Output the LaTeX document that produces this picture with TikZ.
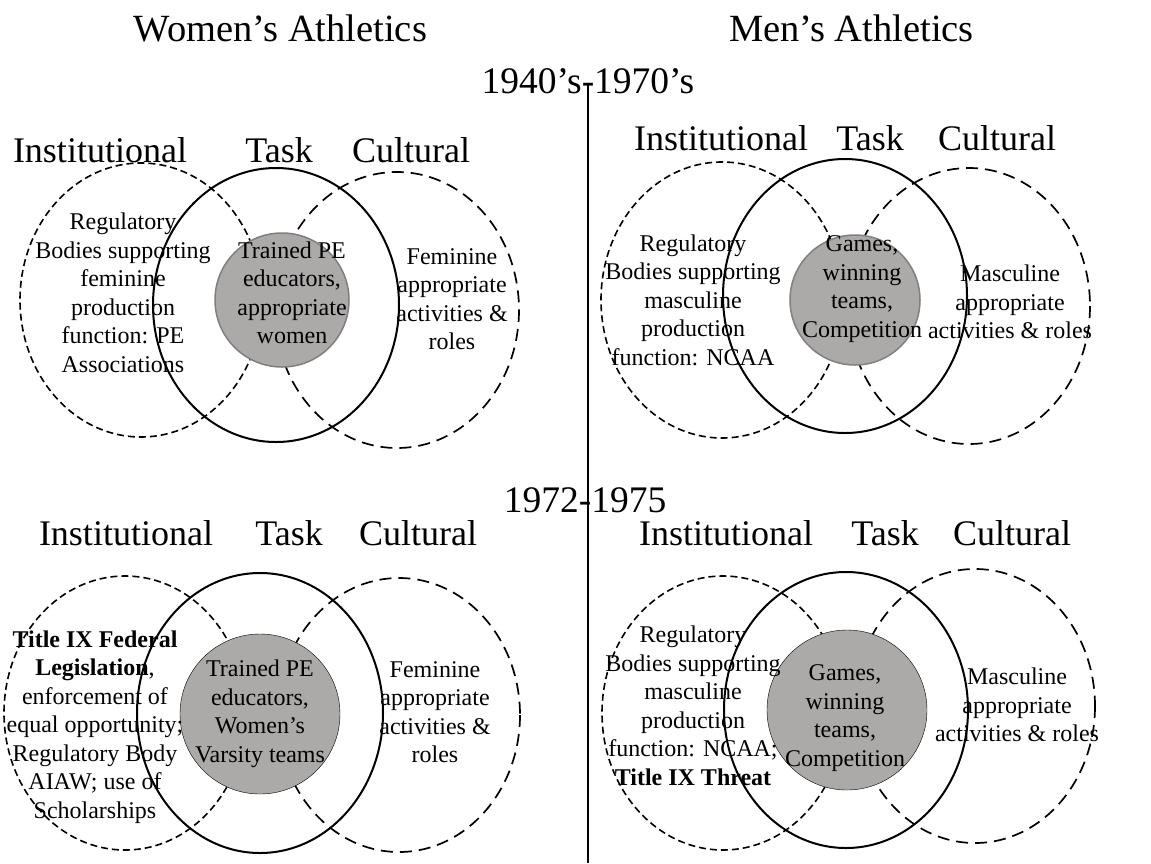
\documentclass[tikz,border=0pt]{standalone}
\usepackage{fontspec}
\setmainfont{Liberation Serif}
\definecolor{coregray}{RGB}{172,169,169}
\definecolor{coreedge}{RGB}{128,126,126}
\begin{document}
\begin{tikzpicture}[x=1pt,y=-1pt,
  inst/.style={draw, dash pattern=on 7pt off 4pt, line width=1.6pt},
  cult/.style={draw, dash pattern=on 12pt off 7pt, line width=1.7pt},
  taskc/.style={draw, line width=2pt},
  coreA/.style={fill=coregray, draw=coreedge, line width=1.5pt},
  coreB/.style={fill=coregray},
  head/.style={font=\fontsize{38.5}{40}\selectfont, inner sep=0pt, anchor=base},
  period/.style={font=\fontsize{37.5}{40}\selectfont, inner sep=0pt, anchor=base},
  dim/.style={font=\fontsize{36}{40}\selectfont, inner sep=0pt, anchor=base},
  body/.style={font=\fontsize{24}{28.5}\selectfont, align=center, inner sep=0pt},
  divider/.style={line width=2pt},
]
\useasboundingbox[fill=white] (0,0) rectangle (1151,863);

% headings
\node[head] (women) at (280.5,41) {Women’s Athletics};
\node[head] (men) at (851.5,41) {Men’s Athletics};

% divider
\coordinate (vt) at (588,83);
\coordinate (vb) at (588,863);
\draw[divider] (vt) -- (vb);

\node[period] (p1) at (588,93) {1940’s-1970’s};
\node[period] (p2) at (585,512) {1972-1975};

% ---------- top-left ----------
\draw[inst] (141,300) ellipse [x radius=121, y radius=137];
\draw[taskc] (276,305) ellipse [x radius=123, y radius=137];
\draw[cult] (397,310) ellipse [x radius=122, y radius=138];
\draw[coreA] (282,300) circle [radius=67];
\node[dim] (tlI) at (100,162) {Institutional};
\node[dim] (tlT) at (279,162) {Task};
\node[dim] (tlC) at (411,162) {Cultural};
\node[body] (tlL) at (123,293) {Regulatory\\Bodies supporting\\feminine\\production\\function: PE\\Associations};
\node[body] (tlM) at (292,293) {Trained PE\\educators,\\appropriate\\women};
\node[body] (tlR) at (452,299) {Feminine\\appropriate\\activities \&\\roles};

% ---------- top-right ----------
\draw[inst] (722,300) ellipse [x radius=121, y radius=138];
\draw[taskc] (845,296) ellipse [x radius=122, y radius=137];
\draw[cult] (969,306) ellipse [x radius=121, y radius=138];
\draw[coreA] (855,300) circle [radius=65];
\node[dim] (trI) at (721,150) {Institutional};
\node[dim] (trT) at (870,150) {Task};
\node[dim] (trC) at (997,150) {Cultural};
\node[body] (trL) at (693,300) {Regulatory\\Bodies supporting\\masculine\\production\\function: NCAA};
\node[body] (trM) at (862,289) {Games,\\winning\\teams,\\Competition};
\node[body] (trR) at (1010,302) {Masculine\\appropriate\\activities \& roles};

% ---------- bottom-left ----------
\draw[inst] (125,713) ellipse [x radius=121, y radius=137];
\draw[taskc] (260,713) ellipse [x radius=123, y radius=140];
\draw[cult] (399,715) ellipse [x radius=121, y radius=137];
\draw[coreB] (260,714) circle [radius=80];
\node[dim] (blI) at (126,545) {Institutional};
\node[dim] (blT) at (289,545) {Task};
\node[dim] (blC) at (418,545) {Cultural};
\node[body] (blL) at (95,727) {\textbf{Title IX Federal}\\\textbf{Legislation},\\enforcement of\\equal opportunity;\\Regulatory Body\\AIAW; use of\\Scholarships};
\node[body] (blM) at (260,714) {Trained PE\\educators,\\Women’s\\Varsity teams};
\node[body] (blR) at (435,712) {Feminine\\appropriate\\activities \&\\roles};

% ---------- bottom-right ----------
\draw[inst] (723,713) ellipse [x radius=121, y radius=137];
\draw[taskc] (846,710) ellipse [x radius=122, y radius=138];
\draw[cult] (975,706) ellipse [x radius=120, y radius=137];
\draw[coreB] (847,710) circle [radius=80];
\node[dim] (brI) at (726,545) {Institutional};
\node[dim] (brT) at (885,545) {Task};
\node[dim] (brC) at (1012,545) {Cultural};
\node[body] (brL) at (693,706) {Regulatory\\Bodies supporting\\masculine\\production\\function: NCAA;\\\textbf{Title IX Threat}};
\node[body] (brM) at (845,718) {Games,\\winning\\teams,\\Competition};
\node[body] (brR) at (1017,705) {Masculine\\appropriate\\activities \& roles};
\end{tikzpicture}
\end{document}
